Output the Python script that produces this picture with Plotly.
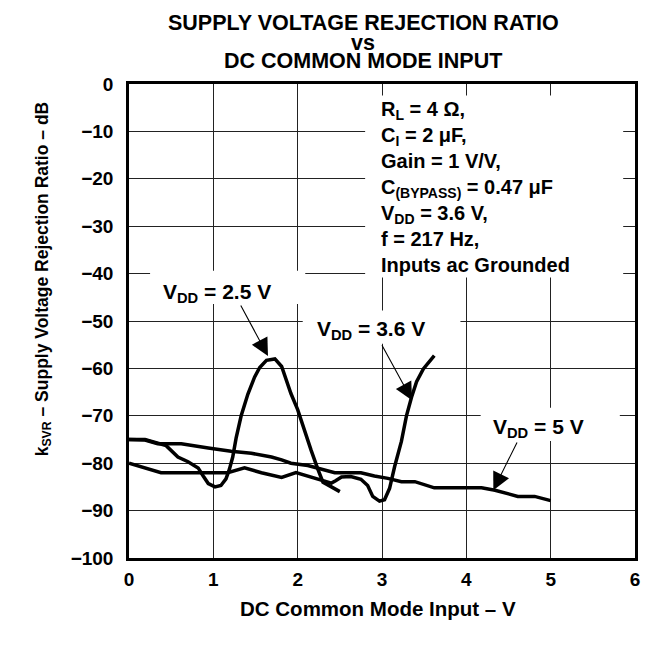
import plotly.graph_objects as go

# VDD = 2.5 V curve
vdd25_x = [0, 0.19, 0.44, 0.58, 0.70, 0.82, 0.88, 0.94, 1.02, 1.09, 1.15, 1.19, 1.23, 1.27,
           1.33, 1.41, 1.49, 1.55, 1.63, 1.73, 1.81, 1.92, 2.00, 2.08, 2.16, 2.24, 2.30, 2.40, 2.50]
vdd25_y = [-75, -75, -76.3, -78.7, -79.7, -81, -82.7, -84.3, -85, -84.7, -83.3, -81.3, -78.7, -74.7,
           -70, -65.4, -61.8, -59.8, -58.3, -58, -59.6, -65.3, -68.7, -73.3, -77.3, -81.3, -84, -85, -86]

# VDD = 3.6 V curve
vdd36_x = [0, 0.38, 1.17, 1.37, 1.57, 1.81, 1.98, 2.16, 2.28, 2.40, 2.45, 2.52, 2.63, 2.75,
           2.83, 2.89, 2.97, 3.03, 3.09, 3.15, 3.23, 3.29, 3.35, 3.41, 3.49, 3.55, 3.62]
vdd36_y = [-80, -82, -82, -81, -82, -83, -82, -83, -83.6, -84.2, -83.7, -82.9, -82.8, -83.4,
           -84.7, -87, -88, -87.7, -85.3, -80.7, -75.4, -70, -66.1, -62.8, -60.1, -58.8, -57.3]

# VDD = 5 V curve
vdd5_x = [0, 0.19, 0.34, 0.62, 0.94, 1.21, 1.45, 1.69, 1.81, 1.92, 2.12, 2.28, 2.44, 2.75,
          2.91, 3.07, 3.23, 3.39, 3.62, 4.18, 4.34, 4.61, 4.81, 5.0]
vdd5_y = [-75, -75.1, -75.9, -75.9, -76.8, -77.5, -77.9, -78.7, -79.3, -80, -80.5, -81.3, -82, -82,
          -82.7, -83.2, -83.9, -83.9, -85.2, -85.2, -85.7, -87, -87, -87.9]

conditions = [
    "R<sub>L</sub> = 4 Ω,",
    "C<sub>I</sub> = 2 μF,",
    "Gain = 1 V/V,",
    "C<sub>(BYPASS)</sub> = 0.47 μF",
    "V<sub>DD</sub> = 3.6 V,",
    "f = 217 Hz,",
    "Inputs ac Grounded",
]

FONT = "Liberation Sans, Arial, sans-serif"

fig = go.Figure()
for xs, ys in [(vdd25_x, vdd25_y), (vdd36_x, vdd36_y), (vdd5_x, vdd5_y)]:
    fig.add_trace(go.Scatter(x=xs, y=ys, mode="lines", line=dict(color="black", width=3.5),
                             showlegend=False, hoverinfo="skip"))

# white boxes behind the labels hide the grid
masks = [
    (2.80, 5.86, -40.8, -2.4),
    (0.25, 2.09, -46.4, -39.4),
    (2.06, 3.93, -54.8, -47.8),
    (4.17, 5.82, -75.3, -68.3),
]
for x0, x1, y0, y1 in masks:
    fig.add_shape(type="rect", xref="x", yref="y", x0=x0, x1=x1, y0=y0, y1=y1,
                  fillcolor="white", line=dict(width=0), layer="between")

labels = [
    ("V<sub>DD</sub> = 2.5 V", 1.04, -44.1, 1.648, -57.4, 1.316, -46.4),
    ("V<sub>DD</sub> = 3.6 V", 2.87, -51.9, 3.356, -66.7, 2.99, -54.8),
    ("V<sub>DD</sub> = 5 V", 4.86, -72.5, 4.32, -85.7, 4.61, -75.3),
]
for text, tx, ty, hx, hy, ax, ay in labels:
    fig.add_annotation(text=text, x=tx, y=ty, xref="x", yref="y", showarrow=False,
                       xanchor="center", yanchor="middle", font=dict(size=21))
    fig.add_annotation(text="", x=hx, y=hy, ax=ax, ay=ay, xref="x", yref="y", axref="x", ayref="y",
                       showarrow=True, arrowhead=2, arrowsize=3.2, arrowwidth=1.1,
                       arrowcolor="black", standoff=0)

fig.add_annotation(text="<br>".join(conditions), x=2.965, y=-21.8, xref="x", yref="y",
                   xanchor="left", yanchor="middle", align="left", showarrow=False,
                   font=dict(size=20))

# title lines
for text, yp in [("SUPPLY VOLTAGE REJECTION RATIO", 1.128), ("vs", 1.086), ("DC COMMON MODE INPUT", 1.048)]:
    fig.add_annotation(text=text, x=0.4625, y=yp, xref="paper", yref="paper", showarrow=False,
                       xanchor="center", yanchor="middle", font=dict(size=21.5))

fig.add_annotation(text="DC Common Mode Input – V", x=0.492, y=-0.1065, xref="paper", yref="paper",
                   showarrow=False, xanchor="center", yanchor="middle", font=dict(size=20.5))
fig.add_annotation(text="k<sub>SVR</sub> – Supply Voltage Rejection Ratio – dB", x=-0.17, y=0.59,
                   xref="paper", yref="paper", showarrow=False, textangle=-90,
                   xanchor="center", yanchor="middle", font=dict(size=17.5))

axis_common = dict(showgrid=True, gridcolor="#222222", gridwidth=1, showline=True, linecolor="black",
                   linewidth=2.5, mirror=True, ticks="", zeroline=False,
                   tickfont=dict(size=19, family=FONT, color="black", weight="bold"))

fig.update_layout(
    width=656, height=646,
    margin=dict(l=121, r=29, t=76, b=96),
    paper_bgcolor="white", plot_bgcolor="white",
    font=dict(family=FONT, size=19, color="black", weight="bold"),
    xaxis=dict(range=[0, 6], tick0=0, dtick=1, ticklabelstandoff=2, **axis_common),
    yaxis=dict(range=[-100, 0], tick0=0, dtick=10, ticklabelstandoff=9, **axis_common),
)

fig.write_html("out.html")
